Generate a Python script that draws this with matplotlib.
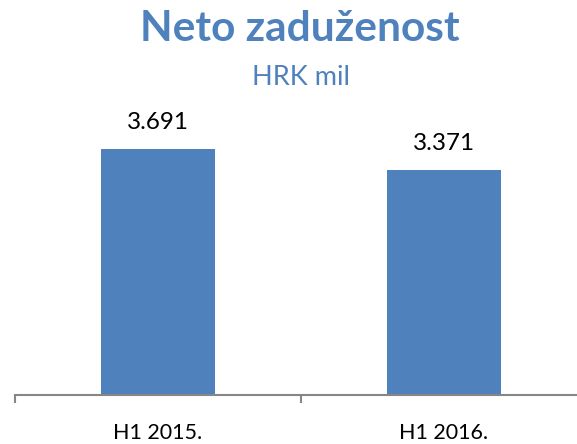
import matplotlib
matplotlib.use("Agg")
import matplotlib.pyplot as plt

# data
categories = ["H1 2015.", "H1 2016."]
values = [3691, 3371]
value_labels = ["3.691", "3.371"]

blue = "#4F81BD"
plt.rcParams['font.family'] = ['Lato', 'DejaVu Sans']

fig = plt.figure(figsize=(5.77, 4.44), dpi=100)
# axes spans a bit past the right edge, like the original
ax = fig.add_axes([15 / 577, 49 / 444, 572 / 577, 295 / 444])

x = range(len(categories))
ax.bar(x, values, width=0.4, color=blue)
ax.set_xlim(-0.5, 1.5)
ax.set_ylim(0, 4426)

for xi, v, lab in zip(x, values, value_labels):
    ax.annotate(lab, (xi, v), xytext=(0, 14.4), textcoords="offset points",
                ha="center", va="baseline", fontsize=17.5, color="black")

# category separators as ticks, labels at centres
ax.set_xticks([-0.5, 0.5, 1.5])
ax.set_xticklabels([])
ax.set_xticks([0, 1], minor=True)
ax.set_xticklabels(categories, minor=True, fontsize=15.5)
ax.tick_params(axis="x", which="major", direction="out", length=6,
               width=1.5, color="#868686")
ax.tick_params(axis="x", which="minor", length=0, pad=20)
ax.set_yticks([])

for s in ["top", "right", "left"]:
    ax.spines[s].set_visible(False)
ax.spines["bottom"].set_color("#868686")
ax.spines["bottom"].set_linewidth(1.5)

fig.text(300 / 577, 1 - 41 / 444, "Neto zaduženost", ha="center", va="baseline",
         fontsize=30.5, fontweight="bold", color=blue)
fig.text(301 / 577, 1 - 85 / 444, "HRK mil", ha="center", va="baseline",
         fontsize=19.5, color=blue)

fig.savefig("out.png", dpi=100)
